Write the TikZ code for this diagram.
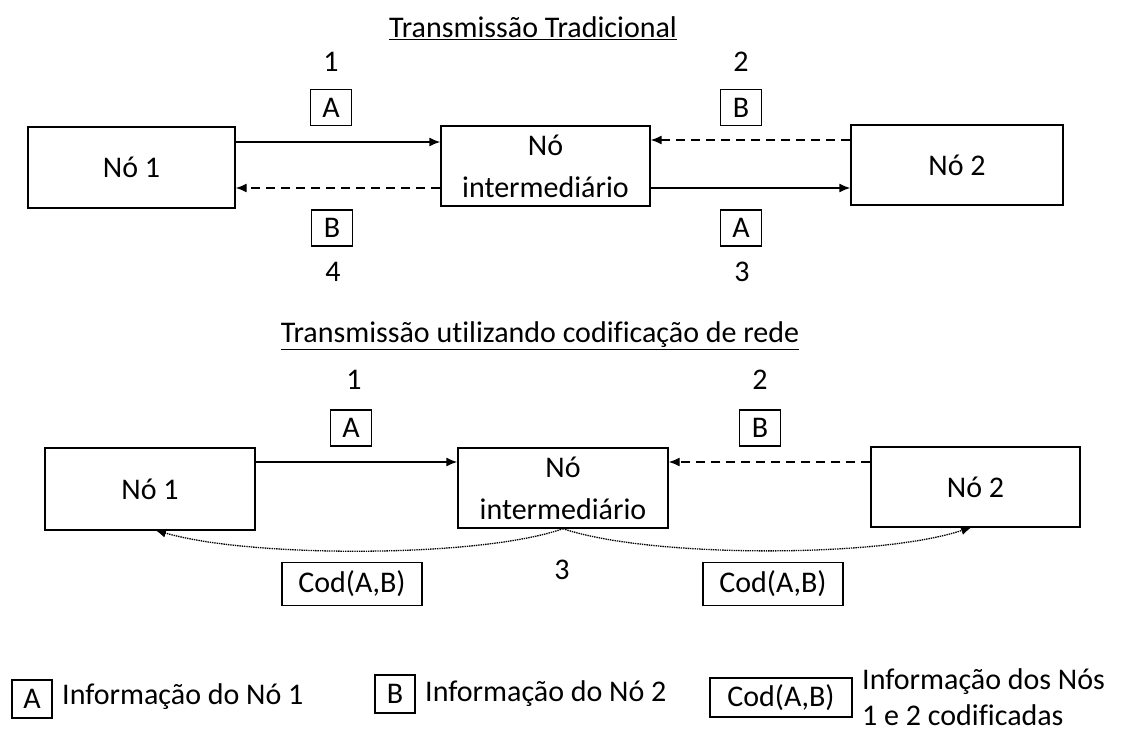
\documentclass[tikz,border=0pt]{standalone}
\usepackage{fontspec}
\setmainfont[Ligatures={NoCommon}]{Carlito}
\usetikzlibrary{arrows.meta}
\begin{document}
\begin{tikzpicture}[x=1pt,y=-1pt,
  every node/.style={font=\fontsize{30}{35}\selectfont, inner sep=0pt},
  bignode/.style={draw, line width=1.4pt, minimum width=208pt, minimum height=80pt, align=center},
  tag/.style={draw, line width=1.2pt, minimum width=41pt, minimum height=36pt},
  codtag/.style={draw, line width=1.2pt, minimum width=140pt, minimum height=43pt},
  tip/.style={-{Latex[length=11pt,width=9pt]}},
  sendline/.style={tip, line width=1.4pt},
  backline/.style={tip, line width=1.4pt, dash pattern=on 9pt off 6pt},
  codline/.style={tip, line width=1.3pt, dash pattern=on 1.4pt off 0.9pt}]
\useasboundingbox (0,0) rectangle (1125,735);

% ---- traditional transmission ----
\node (t1) at (533,28) {\underline{Transmissão Tradicional}};
\node[bignode, minimum width=207pt, minimum height=81pt] (a1) at (131.5,167.5) {Nó 1};
\node[bignode, minimum width=209pt] (am) at (545.5,166) {Nó\\[7pt]intermediário};
\node[bignode, minimum width=212pt] (a2) at (957,165) {Nó 2};

\coordinate (ya) at (0,142);
\coordinate (yb) at (0,188);
\coordinate (yc) at (0,140);
\draw[sendline] (a1.east |- ya) -- (am.west |- ya);
\draw[backline] (am.west |- yb) -- (a1.east |- yb);
\draw[backline] (a2.west |- yc) -- (am.east |- yc);
\draw[sendline] (am.east |- yb) -- (a2.west |- yb);

\node (s1) at (331,62) {1};
\node[tag] (ta1) at (331,107.5) {A};
\node (s2) at (741,62) {2};
\node[tag] (tb2) at (741,107.5) {B};
\node[tag] (tb4) at (332,228) {B};
\node (s4) at (333,272) {4};
\node[tag] (ta3) at (741,228) {A};
\node (s3) at (742,272) {3};

% ---- transmission with network coding ----
\node (t2) at (540,336) {\underline{Transmissão utilizando codificação de rede}};
\node[bignode, minimum width=210pt, minimum height=82pt] (b1) at (150,489) {Nó 1};
\node[bignode, minimum width=210pt] (bm) at (563,488) {Nó\\[7pt]intermediário};
\node[bignode, minimum width=209pt] (b2) at (975.5,487) {Nó 2};

\coordinate (yd) at (0,462);
\draw[sendline] (b1.east |- yd) -- (bm.west |- yd);
\draw[backline] (b2.west |- yd) -- (bm.east |- yd);

\node (u1) at (354,380) {1};
\node[tag] (ua1) at (351,428) {A};
\node (u2) at (760,380) {2};
\node[tag] (ub2) at (760,428) {B};

\coordinate (e1) at (155,530);
\coordinate (e2) at (972,527);
\draw[codline] (bm.south) .. controls (480,558) and (250,558) .. (e1);
\draw[codline] (bm.south) .. controls (650,558) and (880,558) .. (e2);

\node[codtag] (c1) at (352,584) {Cod(A,B)};
\node (u3) at (562,570) {3};
\node[codtag] (c2) at (773,584) {Cod(A,B)};

% ---- legend ----
\node[tag, minimum width=40pt, minimum height=38pt] (la) at (32,699) {A};
\node[anchor=west] (lat) at (62,697) {Informação do Nó 1};
\node[tag, minimum width=40pt, minimum height=38pt] (lb) at (395,694) {B};
\node[anchor=west] (lbt) at (425,694) {Informação do Nó 2};
\node[codtag, minimum width=142pt, minimum height=39pt] (lc) at (781,697.5) {Cod(A,B)};
\node[anchor=west, align=left] (lct) at (862,697) {Informação dos Nós\\[1pt]1 e 2 codificadas};
\end{tikzpicture}
\end{document}
